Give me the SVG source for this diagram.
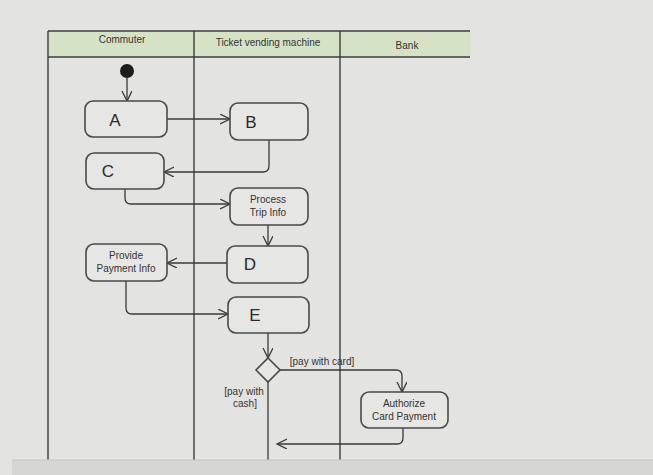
<svg xmlns="http://www.w3.org/2000/svg" width="653" height="475" viewBox="0 0 653 475">
<style>
.lane{stroke:#3c3c3c;stroke-width:1.4;fill:none}
.hdr{fill:#d6e2c6}
.ht{font-family:"Liberation Sans",Arial,sans-serif;font-size:10px;fill:#333;text-anchor:middle}
.node{fill:#e6e6e4;stroke:#4a4a4a;stroke-width:1.6}
.big{font-family:"Liberation Sans",Arial,sans-serif;font-size:17px;fill:#2a2a2a;text-anchor:middle}
.sm{font-family:"Liberation Sans",Arial,sans-serif;font-size:10px;fill:#333;text-anchor:middle}
.edge{fill:none;stroke:#3a3a3a;stroke-width:1.3;marker-end:url(#arr)}
.flow{fill:none;stroke:#3a3a3a;stroke-width:1.3}
</style>
<defs>
<marker id="arr" markerUnits="userSpaceOnUse" markerWidth="12" markerHeight="12" refX="10" refY="5" orient="auto">
<path d="M0,0 L10,5 L0,10" fill="none" stroke="#3a3a3a" stroke-width="1.3"/>
</marker>
</defs>
<rect x="0" y="0" width="653" height="475" fill="#e3e3e1"/>
<g id="swimlanes">
<rect class="hdr" x="49" y="31" width="421" height="26"/>
<line class="lane" x1="48" y1="31" x2="470" y2="31"/>
<line class="lane" x1="48" y1="57" x2="470" y2="57"/>
<line class="lane" x1="48" y1="31" x2="48" y2="460"/>
<line class="lane" x1="194" y1="31" x2="194" y2="460"/>
<line class="lane" x1="340" y1="31" x2="340" y2="460"/>
<text class="ht" x="122" y="43">Commuter</text>
<text class="ht" x="268" y="46">Ticket vending machine</text>
<text class="ht" x="407" y="49">Bank</text>
</g>
<g id="connectors">
<path class="edge" d="M127,78 L127,101"/>
<path class="edge" d="M167,119 L230,119"/>
<path class="edge" d="M269,140 L269,166 Q269,172 263,172 L164,172"/>
<path class="edge" d="M125,189 L125,198 Q125,204 131,204 L230,204"/>
<path class="edge" d="M268,225 L268,246"/>
<path class="edge" d="M227,263 L167,263"/>
<path class="edge" d="M126,281 L126,308 Q126,314 132,314 L228,314"/>
<path class="edge" d="M268,333 L268,358"/>
<path class="edge" d="M280,370 L396,370 Q402,370 402,376 L402,392"/>
<path class="edge" d="M403,428 L403,438 Q403,444 397,444 L277,444"/>
<path class="flow" d="M268,382 L268,460"/>
<text class="sm" x="322" y="365">[pay with card]</text>
<text class="sm" x="244" y="395">[pay with</text>
<text class="sm" x="245" y="407">cash]</text>
</g>
<g id="start"><circle cx="127" cy="71" r="7" fill="#1e1e1e"/></g>
<g id="A"><rect class="node" x="85" y="101" width="82" height="36" rx="8"/><text class="big" x="115" y="126">A</text></g>
<g id="B"><rect class="node" x="230" y="103" width="78" height="37" rx="8"/><text class="big" x="251" y="128">B</text></g>
<g id="C"><rect class="node" x="86" y="153" width="78" height="36" rx="8"/><text class="big" x="108" y="177">C</text></g>
<g id="ProcessTripInfo"><rect class="node" x="230" y="188" width="78" height="37" rx="8"/><text class="sm" x="268" y="203">Process</text><text class="sm" x="268" y="216">Trip Info</text></g>
<g id="D"><rect class="node" x="227" y="246" width="81" height="37" rx="8"/><text class="big" x="250" y="270">D</text></g>
<g id="ProvidePaymentInfo"><rect class="node" x="86" y="244" width="81" height="37" rx="8"/><text class="sm" x="126" y="259">Provide</text><text class="sm" x="126" y="272">Payment Info</text></g>
<g id="E"><rect class="node" x="228" y="297" width="81" height="36" rx="8"/><text class="big" x="255" y="321">E</text></g>
<g id="decision"><polygon class="node" points="268,358 280,370 268,382 256,370"/></g>
<g id="AuthorizeCardPayment"><rect class="node" x="361" y="392" width="87" height="36" rx="8"/><text class="sm" x="404" y="407">Authorize</text><text class="sm" x="404" y="420">Card Payment</text></g>
<g id="screen-edge"><rect x="12" y="460" width="641" height="15" fill="#d6d6d4"/><line x1="12" y1="460" x2="653" y2="460" stroke="#c4c4c2" stroke-width="1"/></g>
</svg>
